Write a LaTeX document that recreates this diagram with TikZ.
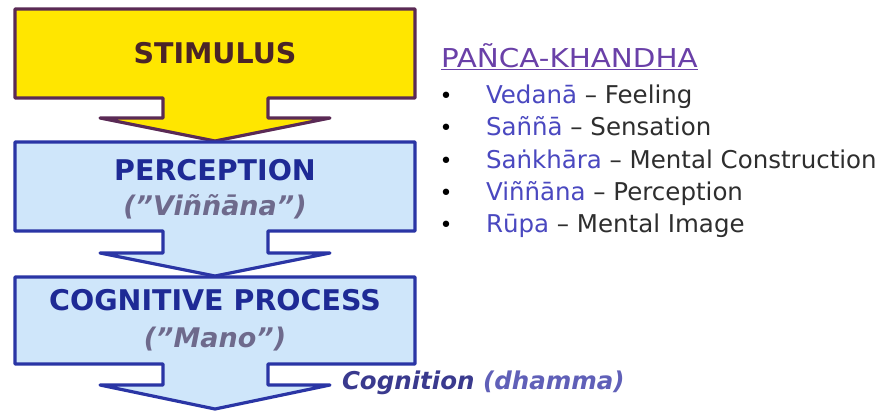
\documentclass[tikz,border=0pt]{standalone}
\usepackage{fontspec}
\setmainfont{DejaVu Sans}
\definecolor{yel}{HTML}{FFE600}
\definecolor{yelborder}{HTML}{5A2A55}
\definecolor{bluefill}{HTML}{CFE6FA}
\definecolor{blueborder}{HTML}{2A35A5}
\definecolor{titleblue}{HTML}{1E2A95}
\definecolor{stimtext}{HTML}{4A2428}
\definecolor{paligray}{HTML}{6E6A8C}
\definecolor{cogblue}{HTML}{3A3A8E}
\definecolor{dhblue}{HTML}{6060B8}
\definecolor{headpurple}{HTML}{6A40A8}
\definecolor{paliblue}{HTML}{4A48C0}
\definecolor{listgray}{HTML}{2E2E2E}
\begin{document}
\begin{tikzpicture}[x=1pt,y=-1pt,
  yelcallout/.style={fill=yel,draw=yelborder,line width=3.2pt,line join=round},
  bluecallout/.style={fill=bluefill,draw=blueborder,line width=3.2pt,line join=round},
  txt/.style={inner sep=0pt,outer sep=0pt},
  boxtitle/.style={txt,anchor=base,font=\fontsize{28.5}{34}\selectfont\bfseries},
  paliname/.style={txt,anchor=base,text=paligray,font=\fontsize{27}{32}\selectfont\bfseries\itshape},
  listitem/.style={txt,anchor=base west,text=listgray,font=\fontsize{24.5}{29}\selectfont},
  bulletmark/.style={txt,anchor=base,font=\fontsize{22}{26}\selectfont}]
\fill[white] (0,0) rectangle (896,410);
\useasboundingbox (0,0) rectangle (896,410);
% callout boxes
\draw[yelcallout] (15,9) -- (415,9) -- (415,98) -- (268,98) -- (268,118) -- (330,118) -- (215,141) -- (100,118) -- (163,118) -- (163,98) -- (15,98) -- cycle;
\draw[bluecallout] (15,142) -- (415,142) -- (415,231) -- (268,231) -- (268,253) -- (330,253) -- (215,276) -- (100,253) -- (163,253) -- (163,231) -- (15,231) -- cycle;
\draw[bluecallout] (15,277) -- (415,277) -- (415,364) -- (268,364) -- (268,385) -- (330,385) -- (215,409) -- (100,385) -- (163,385) -- (163,364) -- (15,364) -- cycle;
% box texts
\node[boxtitle,text=stimtext] (stim) at (215,63) {STIMULUS};
\node[boxtitle,text=titleblue] (perc) at (215,180) {PERCEPTION};
\node[paliname] (vinn) at (215,215) {("Viññāna”)};
\node[boxtitle,text=titleblue] (cogp) at (215,310) {COGNITIVE PROCESS};
\node[paliname] (mano) at (215,347) {("Mano”)};
\node[txt,anchor=base west,font=\fontsize{24.5}{29}\selectfont\bfseries\itshape] (cogn) at (342,389) {\textcolor{cogblue}{Cognition} \textcolor{dhblue}{(dhamma)}};
% list
\node[txt,anchor=base west,text=headpurple,font=\fontsize{26}{31}\selectfont] (head) at (441,67) {\scalebox{1.13}[1]{\underline{PAÑCA-KHANDHA}}};
\node[bulletmark] (b1) at (446,103) {•};
\node[bulletmark] (b2) at (446,135) {•};
\node[bulletmark] (b3) at (446,168) {•};
\node[bulletmark] (b4) at (446,200) {•};
\node[bulletmark] (b5) at (446,232) {•};
\node[listitem] (l1) at (486,103) {\textcolor{paliblue}{Vedanā} – Feeling};
\node[listitem] (l2) at (486,135) {\textcolor{paliblue}{Saññā} – Sensation};
\node[listitem] (l3) at (486,168) {\textcolor{paliblue}{Saṅkhāra} – Mental Construction};
\node[listitem] (l4) at (486,200) {\textcolor{paliblue}{Viññāna} – Perception};
\node[listitem] (l5) at (486,232) {\textcolor{paliblue}{Rūpa} – Mental Image};
\end{tikzpicture}
\end{document}
